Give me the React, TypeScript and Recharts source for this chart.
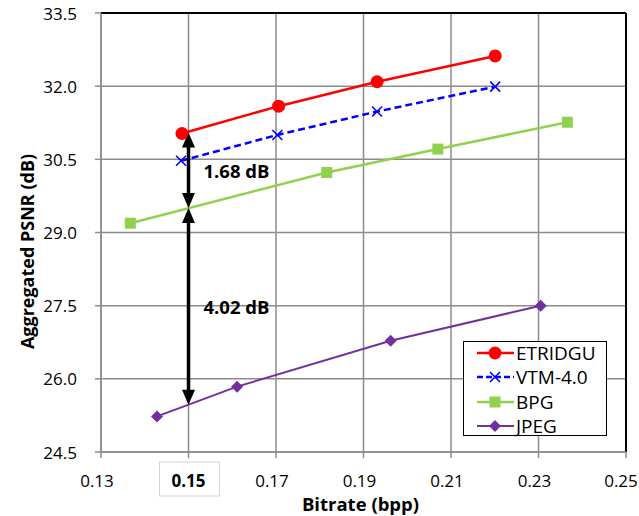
import React from 'react';
import { LineChart, Line, XAxis, YAxis, CartesianGrid, ReferenceLine, Legend, Label } from 'recharts';

const bitrateTicks = [0.13, 0.15, 0.17, 0.19, 0.21, 0.23, 0.25];
const psnrTicks = [24.5, 26.0, 27.5, 29.0, 30.5, 32.0, 33.5];
const highlightTick = 0.15;

const etridguBitrate = [0.1485, 0.1706, 0.1931, 0.2201];
const etridguPsnr = [31.03, 31.59, 32.09, 32.62];
const vtmBitrate = [0.1483, 0.1703, 0.1931, 0.2201];
const vtmPsnr = [30.47, 31.0, 31.48, 31.99];
const bpgBitrate = [0.1367, 0.1816, 0.207, 0.2366];
const bpgPsnr = [29.19, 30.23, 30.71, 31.26];
const jpegBitrate = [0.1428, 0.1611, 0.1962, 0.2305];
const jpegPsnr = [25.23, 25.84, 26.78, 27.5];

const gainBitrate = 0.15;
const gainLevels = [31.05, 29.5, 25.47];
const gainLabels = ['1.68 dB', '4.02 dB'];

const seriesNames = ['ETRIDGU', 'VTM-4.0', 'BPG', 'JPEG'];
const seriesColors = ['#FF0000', '#0000FF', '#92D050', '#7030A0'];

const zip = (xs: number[], ys: number[]) => xs.map((x, i) => ({ x, y: ys[i] }));
const etridguData = zip(etridguBitrate, etridguPsnr);
const vtmData = zip(vtmBitrate, vtmPsnr);
const bpgData = zip(bpgBitrate, bpgPsnr);
const jpegData = zip(jpegBitrate, jpegPsnr);

const FONT = "'Open Sans', sans-serif";

const Marker = ({ kind, cx, cy }: { kind: number; cx: number; cy: number }) => {
  const c = seriesColors[kind];
  if (kind === 0) return <circle cx={cx} cy={cy} r={6.5} fill={c} />;
  if (kind === 1)
    return (
      <g stroke={c} strokeWidth={1.6}>
        <line x1={cx - 5} y1={cy - 5} x2={cx + 5} y2={cy + 5} />
        <line x1={cx - 5} y1={cy + 5} x2={cx + 5} y2={cy - 5} />
      </g>
    );
  if (kind === 2) return <rect x={cx - 5.5} y={cy - 5.5} width={11} height={11} fill={c} />;
  return <polygon points={`${cx},${cy - 6} ${cx + 6},${cy} ${cx},${cy + 6} ${cx - 6},${cy}`} fill={c} />;
};

const makeDot = (kind: number) => (p: any) => {
  if (p.cx == null || p.cy == null) return <g key={p.key} />;
  return <Marker key={p.key} kind={kind} cx={p.cx} cy={p.cy} />;
};

const XTick = (p: any) => {
  const { x, y, payload } = p;
  const v = payload.value as number;
  const bold = Math.abs(v - highlightTick) < 1e-9;
  const cy = y + 20;
  return (
    <g>
      {bold && <rect x={x - 29} y={cy - 18} width={60} height={34} fill="none" stroke="#d4d4d4" strokeWidth={1} />}
      <text x={bold ? x : x - 4} y={cy} textAnchor="middle" dominantBaseline="central" fontFamily={FONT} fontWeight={bold ? 700 : 400} fontSize={17} fill="#000">
        {v.toFixed(2)}
      </text>
    </g>
  );
};

const YTick = (p: any) => {
  const { x, y, payload } = p;
  return (
    <text x={x - 16} y={y} textAnchor="end" dominantBaseline="central" fontFamily={FONT} fontSize={17} fill="#000">
      {(payload.value as number).toFixed(1)}
    </text>
  );
};

const makeArrow = (text: string) => (p: any) => {
  const { x1, y1, y2 } = p;
  const top = Math.min(y1, y2);
  const bot = Math.max(y1, y2);
  const x = x1;
  const hw = 6.5;
  const hh = 15;
  return (
    <g>
      <line x1={x} y1={top + hh - 1} x2={x} y2={bot - hh + 1} stroke="#000" strokeWidth={3.5} />
      <polygon points={`${x},${top} ${x + hw},${top + hh} ${x - hw},${top + hh}`} fill="#000" />
      <polygon points={`${x},${bot} ${x + hw},${bot - hh} ${x - hw},${bot - hh}`} fill="#000" />
      <text x={x + 15} y={(top + bot) / 2} dominantBaseline="central" fontFamily={FONT} fontWeight={700} fontSize={18.5} fill="#000">
        {text}
      </text>
    </g>
  );
};

const rowCenters = [10.5, 35, 59.5, 83.5];

const LegendBox = () => (
  <div style={{ position: 'relative', border: '1.5px solid #000', background: '#fff', width: 144, height: 95, boxSizing: 'border-box', fontFamily: FONT }}>
    {seriesNames.map((n, i) => (
      <div key={n} style={{ position: 'absolute', left: 0, top: rowCenters[i] - 11, height: 22, display: 'flex', alignItems: 'center', overflow: 'visible' }}>
        <svg width={50} height={20} style={{ display: 'block' }}>
          <line x1={13} y1={10} x2={50} y2={10} stroke={seriesColors[i]} strokeWidth={i === 3 ? 2 : 2.5} strokeDasharray={i === 1 ? '6 3' : undefined} />
          <Marker kind={i} cx={31} cy={10} />
        </svg>
        <span style={{ display: 'block', height: 22, fontSize: 19, color: '#000', lineHeight: '22px', marginLeft: 2, whiteSpace: 'nowrap' }}>{n}</span>
      </div>
    ))}
  </div>
);

const XTitle = (p: any) => {
  const vb = p.viewBox || {};
  return (
    <text x={vb.x + vb.width / 2 - 3} y={511} textAnchor="middle" fontFamily={FONT} fontWeight={700} fontSize={18.5} fill="#000">
      Bitrate (bpp)
    </text>
  );
};

const YTitle = (p: any) => {
  const vb = p.viewBox || {};
  const cy = vb.y + vb.height / 2 + 19;
  return (
    <text transform={`translate(34, ${cy}) rotate(-90)`} x={0} y={0} textAnchor="middle" fontFamily={FONT} fontWeight={700} fontSize={18} fill="#000">
      Aggregated PSNR (dB)
    </text>
  );
};

export default function App() {
  return (
    <div style={{ position: 'absolute', left: 0, top: 0, width: 639, height: 516, background: '#fff' }}>
      <LineChart width={639} height={516} margin={{ top: 13, right: 13, left: 0, bottom: 0 }}>
        <CartesianGrid stroke="#8c8c8c" strokeWidth={1.5} />
        <XAxis
          type="number"
          dataKey="x"
          domain={[0.13, 0.25]}
          ticks={bitrateTicks}
          height={64}
          tick={<XTick />}
          tickSize={6}
          tickLine={{ stroke: '#8c8c8c', strokeWidth: 1.5 }}
          axisLine={{ stroke: '#8c8c8c', strokeWidth: 1.5 }}
          allowDataOverflow
        >
          <Label content={<XTitle />} position="insideBottom" />
        </XAxis>
        <YAxis
          type="number"
          dataKey="y"
          domain={[24.5, 33.5]}
          ticks={psnrTicks}
          width={101}
          tick={<YTick />}
          tickSize={6}
          tickLine={{ stroke: '#8c8c8c', strokeWidth: 1.5 }}
          axisLine={{ stroke: '#8c8c8c', strokeWidth: 1.5 }}
          allowDataOverflow
        >
          <Label content={<YTitle />} position="insideLeft" />
        </YAxis>
        <ReferenceLine y={33.5} stroke="#000" strokeWidth={2} />
        <ReferenceLine x={0.25} stroke="#000" strokeWidth={2} />
        <Line data={etridguData} dataKey="y" name={seriesNames[0]} stroke={seriesColors[0]} strokeWidth={2.5} dot={makeDot(0)} isAnimationActive={false} />
        <Line data={vtmData} dataKey="y" name={seriesNames[1]} stroke={seriesColors[1]} strokeWidth={2.5} strokeDasharray="7 4" dot={makeDot(1)} isAnimationActive={false} />
        <Line data={bpgData} dataKey="y" name={seriesNames[2]} stroke={seriesColors[2]} strokeWidth={2.5} dot={makeDot(2)} isAnimationActive={false} />
        <Line data={jpegData} dataKey="y" name={seriesNames[3]} stroke={seriesColors[3]} strokeWidth={2} dot={makeDot(3)} isAnimationActive={false} />
        <ReferenceLine
          segment={[{ x: gainBitrate, y: gainLevels[0] }, { x: gainBitrate, y: gainLevels[1] }]}
          shape={makeArrow(gainLabels[0])}
          ifOverflow="visible"
        />
        <ReferenceLine
          segment={[{ x: gainBitrate, y: gainLevels[1] }, { x: gainBitrate, y: gainLevels[2] }]}
          shape={makeArrow(gainLabels[1])}
          ifOverflow="visible"
        />
        <Legend
          layout="vertical"
          align="center"
          verticalAlign="middle"
          content={() => <LegendBox />}
          wrapperStyle={{ left: 463, top: 341, width: 144, height: 95 }}
        />
      </LineChart>
    </div>
  );
}
